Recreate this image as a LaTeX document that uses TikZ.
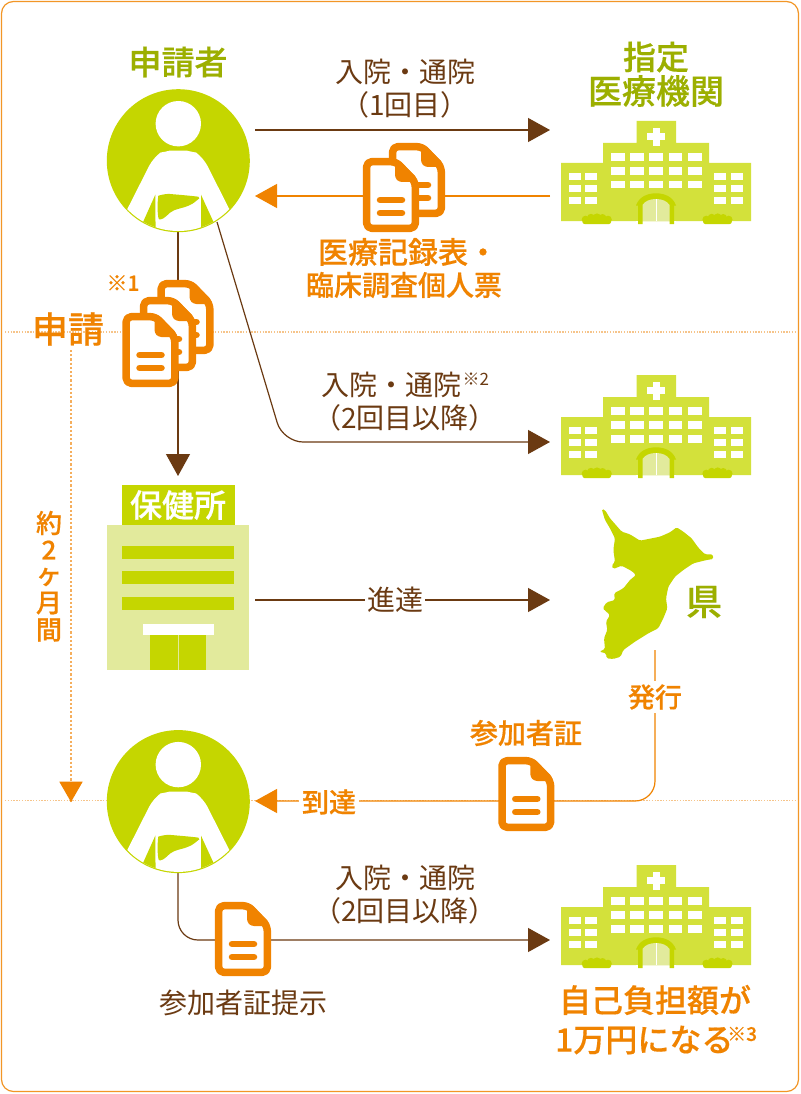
\documentclass[tikz,border=0pt]{standalone}
\usepackage{fontspec}
\setmainfont{Noto Sans CJK JP}
\newfontfamily\jpmed[FakeBold=0.45]{Noto Sans CJK JP Medium}
\usetikzlibrary{arrows.meta}
\definecolor{grn}{HTML}{C5D600}
\definecolor{wing}{HTML}{D3E13B}
\definecolor{lite}{HTML}{E2EA9C}
\definecolor{olive}{HTML}{9CAF00}
\definecolor{org}{HTML}{F08300}
\definecolor{brn}{HTML}{6B3A12}
\definecolor{dots}{HTML}{F6C48A}
\definecolor{dotv}{HTML}{F5AE5C}
\tikzset{
  x=1pt,y=-1pt,
  brownline/.style={draw=brn,line width=1.2pt,-{Triangle[length=22pt,width=24pt]}},
  orangeline/.style={draw=org,line width=1.2pt,-{Triangle[length=22pt,width=24pt]}},
  brtext/.style={text=brn,font=\fontsize{28}{28}\selectfont,inner sep=0pt},
  ortext/.style={text=org,font=\fontsize{#1}{#1}\selectfont\jpmed,inner sep=0pt},
  oltext/.style={text=olive,font=\fontsize{#1}{#1}\selectfont\jpmed,inner sep=0pt},
  sepline/.style={draw=dots,line width=1.3pt,dash pattern=on 1.4pt off 1.4pt},
}
\newcommand{\winrow}[4]{\foreach \wx in {#1}{\fill[white] (\wx,#2) rectangle ++(#3,#4);}}
\newcommand{\hospitalicon}[2]{%
\begin{scope}[shift={(#1,#2)}]
  \fill[wing] (75.7,0) -- (115,0) -- (115,22) -- (148,22) -- (148,42) -- (190,42) -- (190,100) -- (0,100) -- (0,42) -- (42,42) -- (42,22) -- (75.7,22) -- cycle;
  \fill[white] (86.3,12.2) rectangle (104,19.2);
  \fill[white] (91.6,6.8) rectangle (98.6,24.6);
  \winrow{50,69,88.3,107.7,127}{32.3}{13.5}{7.5}
  \winrow{50,69,88.3,107.7,127}{46.3}{13.5}{7.5}
  \winrow{50,69,88.3,107.7,127}{60}{13.5}{7.5}
  \foreach \wy in {52.3,64.3,76.3}{\winrow{7.7,24.3,153.3,170}{\wy}{12}{6.4}}
  \fill[white] (75,100) rectangle (115,103.5);
  \fill[grn] (77,103) -- (77,84.5) -- (75,84.5) .. controls (78,76) and (86,72.3) .. (95,72.3) .. controls (104,72.3) and (112,76) .. (115,84.5) -- (113,84.5) -- (113,103) -- (108.5,103) -- (108.5,100) -- (81.5,100) -- (81.5,103) -- cycle;
  \fill[lite] (81.5,100) -- (81.5,84) .. controls (84,80) and (89,78) .. (95,78) .. controls (101,78) and (106,80) .. (108.5,84) -- (108.5,100) -- cycle;
  \draw[white,line width=0.9pt] (95,78) -- (95,100);
  \foreach \sx in {0,120.7}{
    \begin{scope}[shift={(\sx,0)}]
    \fill[grn,rounded corners=2pt] (21.5,103) rectangle (50,97);
    \foreach \cx/\cy/\cr in {24.5/98.5/3.8,30/96.8/4,36/96.2/3.8,41.5/96.8/3.8,47/98.5/3.8}{\fill[grn] (\cx,\cy) circle[radius=\cr];}
    \end{scope}
  }
\end{scope}}
\newcommand{\personicon}[2]{%
\begin{scope}[shift={(#1,#2)}]
  \fill[grn] (0,0) circle[radius=71.5];
  \begin{scope}
    \clip (0,0) circle[radius=70.3];
    \fill[white,rounded corners=9pt] (-68,82) -- (-25,-3) .. controls (-18,-8) and (-8,-10) .. (0,-10) .. controls (8,-10) and (18,-8) .. (25,-3) -- (68,82) -- cycle;
    \fill[grn] (-23,34) -- (-36,63) -- (-36,75) -- (-22.7,75) -- cycle;
    \fill[grn] (22.7,34) -- (36,63) -- (36,75) -- (22.7,75) -- cycle;
  \end{scope}
  \fill[white] (0,-37) circle[radius=22.7];
  \fill[grn] (-20,35) .. controls (-15,33.5) and (-10,33) .. (-8.3,33.3) .. controls (0,34) and (12,35) .. (20,36) -- (21,37.7) .. controls (18,40) and (15,43) .. (11.7,44.3) .. controls (8,46) and (5,47) .. (1.7,47.7) .. controls (-3,49) and (-6,50) .. (-8.3,52) .. controls (-11,54) and (-13,57) .. (-15,57.7) .. controls (-17,59) and (-19,59) .. (-19.5,58.5) .. controls (-21,54) and (-21,42) .. (-20,35) -- cycle;
\end{scope}}
\newcommand{\docicon}[2]{%
\begin{scope}[shift={(#1,#2)}]
  \draw[org,line width=7.5pt,fill=white,rounded corners=5pt,line join=round] (3.7,3.7) -- (33,3.7) -- (52.3,24) -- (52.3,70.3) -- (3.7,70.3) -- cycle;
  \fill[org,rounded corners=3pt] (32,2) -- (32,20) -- (36,24) -- (54,24) -- (54,20) -- (36,2) -- cycle;
  \draw[org,line width=6.5pt,line cap=round] (17,42) -- (39,42);
  \draw[org,line width=6.5pt,line cap=round] (17,55) -- (39,55);
\end{scope}}
\begin{document}
\begin{tikzpicture}
\useasboundingbox (0,0) rectangle (800,1094);
\fill[white] (0,0) rectangle (800,1094);
% frame and separators
\draw[org!85,line width=1.2pt,rounded corners=12pt] (1.5,1.5) rectangle (798.5,1091.5);
\coordinate (sa) at (5,332); \coordinate (sb) at (795,332);
\coordinate (sc) at (5,800.5); \coordinate (sd) at (795,800.5);
\draw[sepline] (sa) -- (sb);
\draw[sepline] (sc) -- (sd);
% coordinates
\coordinate (p1r) at (255,130); \coordinate (h1l) at (550,130);
\coordinate (h1b) at (550,196); \coordinate (p1rb) at (255,196);
\coordinate (p1d) at (178,232); \coordinate (ho) at (178,476);
\coordinate (p1e) at (217,222); \coordinate (b1) at (283,442); \coordinate (h2l) at (550,442);
\coordinate (hr) at (255,600); \coordinate (kl) at (550,600);
\coordinate (kb) at (655,650); \coordinate (k2) at (655,801); \coordinate (p2r) at (255,801);
\coordinate (p2d) at (178,873); \coordinate (b2) at (178,940); \coordinate (h3l) at (550,940);
\coordinate (va) at (71,350); \coordinate (vb) at (71,802);
% connectors
\path[brownline] (p1r) -- (h1l);
\path[orangeline] (h1b) -- (p1rb);
\path[brownline] (p1d) -- (ho);
\path[brownline,rounded corners=20pt] (p1e) -- (b1) -- (h2l);
\path[brownline] (hr) -- node[pos=0.475,fill=white,inner xsep=2pt,inner ysep=0pt,text=brn,font=\fontsize{28}{28}\selectfont] (sintatsu) {進達} (kl);
\path[orangeline,rounded corners=20pt] (kb) -- (k2) -- (p2r);
\path[brownline,rounded corners=20pt] (p2d) -- (b2) -- (h3l);
\draw[dotv,line width=1.7pt,dash pattern=on 2.2pt off 2pt] (va) -- (vb);
\fill[org] (59.3,781.7) -- (82.7,781.7) -- (vb) -- cycle;
% icons
\personicon{178.3}{160.7}
\personicon{178.3}{801.6}
\hospitalicon{561}{121}
\hospitalicon{561}{375}
\hospitalicon{561}{865}
\docicon{389}{143}
\docicon{363}{158}
\docicon{157.5}{280}
\docicon{140}{297}
\docicon{122.5}{313}
\docicon{498.3}{757}
\docicon{215}{902}
% health centre
\fill[lite] (107.3,525) rectangle (249.3,670);
\fill[grn] (121.7,485) rectangle (235,525);
\foreach \sy in {546,571,596.7}{\fill[grn] (122.3,\sy) rectangle ++(111.7,13.3);}
\fill[white] (142.7,624) rectangle (214,635);
\fill[grn] (150.3,635) rectangle (177.7,670);
\fill[grn] (179.3,635) rectangle (206,670);
\node[text=white,font=\fontsize{32}{32}\selectfont\jpmed,inner sep=0pt] (hoken) at (178,505) {保健所};
% Chiba
\begin{scope}[shift={(580,495)},x=0.3333pt,y=-0.3333pt]
\fill[grn,rounded corners=1.5pt] (65,42) -- (75,45) -- (90,70) -- (112,95) -- (125,110) -- (150,118) -- (180,137) -- (215,130) -- (240,125) -- (270,112) -- (290,97) -- (310,110) -- (335,130) -- (355,158) -- (375,178) -- (398,178) -- (400,192) -- (380,195) -- (340,205) -- (310,225) -- (285,245) -- (265,275) -- (258,310) -- (262,340) -- (250,370) -- (235,400) -- (205,415) -- (165,440) -- (130,465) -- (122,485) -- (100,492) -- (80,490) -- (78,475) -- (58,470) -- (75,462) -- (72,430) -- (82,405) -- (78,380) -- (90,360) -- (68,340) -- (80,322) -- (105,315) -- (102,295) -- (130,280) -- (150,255) -- (168,240) -- (155,228) -- (125,212) -- (100,222) -- (95,212) -- (105,200) -- (100,165) -- (105,130) -- (90,100) -- (75,75) -- cycle;
\end{scope}
% texts
\node[oltext=33] (t1) at (178,62) {申請者};
\node[oltext=33] (t2) at (656,57) {指定};
\node[oltext=34] (t3) at (656,91) {医療機関};
\node[oltext=36] (t4) at (704,602) {県};
\node[brtext] (t5) at (405,72) {入院・通院};
\node[brtext] (t6) at (405,105) {（1回目）};
\node[ortext=30] (t7) at (408,252) {医療記録表・};
\node[ortext=28] (t8) at (404,285) {臨床調査個人票};
\node[ortext=21] (t9) at (123,283) {※1};
\node[ortext=36] (t10) at (68,329) {申請};
\node[brtext,anchor=west] (t11) at (321,385) {入院・通院};
\node[text=brn,font=\fontsize{17}{17}\selectfont,inner sep=0pt,anchor=west] (t12) at (462.5,379.5) {※2};
\node[brtext] (t13) at (405,418) {（2回目以降）};
\node[ortext=26] (t14) at (49,523) {約};
\node[ortext=26] (t15) at (49,550) {2};
\node[ortext=26] (t16) at (49,577) {ヶ};
\node[ortext=26] (t17) at (49,603) {月};
\node[ortext=26] (t18) at (49,630) {間};
\node[ortext=27,fill=white,inner ysep=3pt,inner xsep=2pt] (t19) at (655,697) {発行};
\node[ortext=28] (t20) at (526,733) {参加者証};
\node[ortext=27,fill=white,inner xsep=3pt,inner ysep=1pt] (t21) at (329,802) {到達};
\node[brtext] (t22) at (405,878) {入院・通院};
\node[brtext] (t23) at (405,911) {（2回目以降）};
\node[brtext] (t24) at (243,1003) {参加者証提示};
\node[ortext=32] (t25) at (655,1000) {自己負担額が};
\node[ortext=32,anchor=west] (t26) at (555,1040) {1万円になる};
\node[ortext=19,anchor=west] (t27) at (727,1034) {※3};
\end{tikzpicture}
\end{document}
